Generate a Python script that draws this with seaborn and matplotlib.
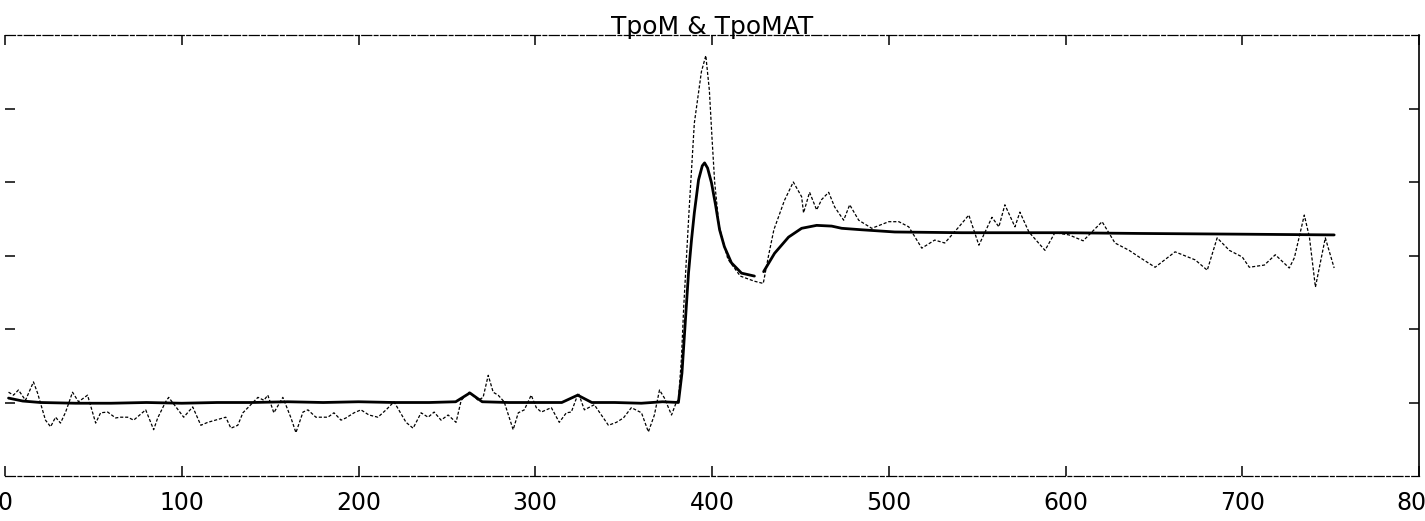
import numpy as np
import pandas as pd
import matplotlib
matplotlib.use("Agg")
import matplotlib.pyplot as plt
import seaborn as sns

# TpoM : smooth (thick) curve, split where the pen lifted near the trough
tpom_x1 = [2, 10, 20, 40, 60, 80, 100, 120, 140, 160, 180, 200, 220, 240, 255,
           263, 270, 285, 300, 315, 324, 332, 345, 360, 372, 381, 383, 386.7,
           388.4, 390, 392.4, 394.5, 395.8, 397.5, 399.7, 402, 404.3, 407,
           411, 416.7, 424]
tpom_y1 = [1.06, 1.02, 1.0, 0.99, 0.99, 1.0, 0.99, 1.0, 1.0, 1.01, 1.0, 1.01,
           1.0, 1.0, 1.01, 1.13, 1.01, 1.0, 1.0, 1.0, 1.1, 1.0, 1.0, 0.99, 1.01,
           1.0, 1.4, 2.76, 3.21, 3.58, 4.03, 4.22, 4.26, 4.19, 3.99, 3.69, 3.35,
           3.12, 2.90, 2.76, 2.72]
tpom_x2 = [429.2, 435.4, 443.3, 450.7, 459.2, 467.7, 473.4, 484.7, 503.4, 541.3,
           598, 641.6, 700, 752]
tpom_y2 = [2.78, 3.03, 3.25, 3.37, 3.41, 3.40, 3.37, 3.35, 3.32, 3.31, 3.31,
           3.30, 3.29, 3.28]

# TpoMAT : noisy measured curve (thin broken line)
tpomat_x = [2.0, 4.8, 7.6, 11.6, 16.1, 18.4, 22.9, 25.8, 28.6, 31.4, 34.3, 38.2,
            41.6, 46.7, 51.3, 54.1, 58.1, 62.6, 65.4, 69.4, 72.8, 79.6, 84.1,
            86.4, 90.9, 92.6, 101.1, 106.2, 110.8, 114.7, 124.9, 127.8, 131.7,
            134.6, 143.1, 146.5, 148.7, 152.1, 157.2, 161.8, 164.6, 168.6,
            171.4, 175.9, 182.7, 186.1, 190.1, 192.9, 197.5, 201.4, 205.9,
            211.0, 215.6, 220.1, 226.9, 230.9, 235.4, 239.4, 242.8, 246.7,
            250.7, 255.2, 258.1, 262.6, 267.7, 270.5, 273.4, 276.2, 279.0,
            282.4, 287.5, 290.4, 293.8, 297.7, 300.6, 303.4, 309.1, 313.6,
            317.6, 320.4, 324.4, 327.8, 333.4, 341.4, 345.9, 349.9, 354.4,
            360.1, 364.0, 367.4, 370.3, 373.1, 377.1, 379.9, 381.0, 382.7,
            384.0, 385.5, 387.0, 388.5, 390.0, 392.0, 394.0, 396.5, 398.5,
            400.0, 401.5, 404.0, 409.0, 416.0, 424.0, 429.0, 432.0, 435.0,
            438.0, 441.0, 446.0, 450.7, 451.8, 455.2, 459.2, 462.0, 466.0,
            469.4, 474.5, 477.9, 483.0, 490.4, 500.0, 505.7, 511.3, 518.7,
            526.0, 531.7, 539.7, 545.3, 551.0, 558.4, 562.3, 565.7, 571.4,
            574.2, 579.3, 588.4, 594.0, 602.0, 610.0, 620.7, 628.0, 636.0,
            641.6, 650.7, 662.0, 673.4, 680.2, 685.8, 692.7, 700.0, 704.0,
            712.5, 718.7, 726.6, 729.5, 735.1, 738.0, 741.4, 747.0, 752.0]
tpomat_y = [1.14, 1.10, 1.17, 1.03, 1.28, 1.13, 0.76, 0.67, 0.80, 0.72, 0.87,
            1.14, 1.01, 1.10, 0.72, 0.86, 0.87, 0.79, 0.80, 0.80, 0.76, 0.90,
            0.63, 0.79, 1.01, 1.07, 0.80, 0.94, 0.69, 0.73, 0.80, 0.65, 0.69,
            0.86, 1.07, 1.03, 1.10, 0.86, 1.07, 0.79, 0.59, 0.87, 0.90, 0.80,
            0.80, 0.86, 0.76, 0.79, 0.86, 0.90, 0.83, 0.80, 0.90, 1.01, 0.73,
            0.65, 0.86, 0.80, 0.87, 0.76, 0.83, 0.73, 1.03, 1.14, 1.03, 1.07,
            1.37, 1.14, 1.10, 1.01, 0.63, 0.86, 0.90, 1.10, 0.93, 0.87, 0.93,
            0.73, 0.86, 0.87, 1.13, 0.90, 0.97, 0.69, 0.73, 0.79, 0.93, 0.86,
            0.60, 0.83, 1.17, 1.06, 0.83, 1.01, 1.03, 1.60, 2.30, 2.95, 3.60,
            4.20, 4.80, 5.15, 5.50, 5.72, 5.25, 4.60, 4.00, 3.40, 2.95, 2.72,
            2.65, 2.62, 3.00, 3.35, 3.55, 3.75, 4.00, 3.80, 3.58, 3.86, 3.62,
            3.76, 3.86, 3.66, 3.48, 3.69, 3.48, 3.37, 3.46, 3.46, 3.39, 3.10,
            3.21, 3.17, 3.39, 3.55, 3.14, 3.52, 3.39, 3.69, 3.39, 3.59, 3.32,
            3.07, 3.31, 3.28, 3.20, 3.46, 3.17, 3.07, 2.98, 2.84, 3.05, 2.94,
            2.80, 3.24, 3.07, 2.98, 2.84, 2.87, 3.01, 2.83, 2.97, 3.55, 3.25,
            2.57, 3.24, 2.83]

x_ticks = [0, 100, 200, 300, 400, 500, 600, 700, 800]
y_ticks = [1, 2, 3, 4, 5]

sns.set_theme(style="white")
plt.rcParams['font.family'] = ['DejaVu Sans']

fig = plt.figure(figsize=(14.25, 5.21), dpi=100)
ax = fig.add_axes([5 / 1425, 1 - 476 / 521, 1414 / 1425, 441 / 521])

df1 = pd.DataFrame({'x': tpom_x1, 'y': tpom_y1})
df2 = pd.DataFrame({'x': tpom_x2, 'y': tpom_y2})
dfm = pd.DataFrame({'x': tpomat_x, 'y': tpomat_y})

sns.lineplot(data=dfm, x='x', y='y', ax=ax, color='black', lw=0.9,
             linestyle=(0, (2.5, 1.5)), estimator=None, sort=False)
sns.lineplot(data=df1, x='x', y='y', ax=ax, color='black', lw=2.0,
             estimator=None, sort=False)
sns.lineplot(data=df2, x='x', y='y', ax=ax, color='black', lw=2.0,
             estimator=None, sort=False)

ax.set_xlim(0, 800)
ax.set_ylim(0, 6)
ax.set_xticks(x_ticks)
ax.set_yticks(y_ticks)
ax.set_yticklabels([])
ax.set_xlabel('')
ax.set_ylabel('')
ax.tick_params(axis='both', direction='in', length=7, width=1.1, color='black',
               top=True, right=True, bottom=True, left=True)
ax.tick_params(axis='x', labelsize=17, pad=11, labelcolor='black')

for side in ['top', 'bottom']:
    ax.spines[side].set_linestyle((0, (8, 2, 3, 2)))
    ax.spines[side].set_linewidth(0.9)
    ax.spines[side].set_color('black')
ax.spines['right'].set_linewidth(1.2)
ax.spines['right'].set_color('black')
ax.spines['left'].set_visible(False)

ax.set_title('TpoM & TpoMAT', fontsize=18, pad=1, color='black')

fig.savefig('out.png', dpi=100)
